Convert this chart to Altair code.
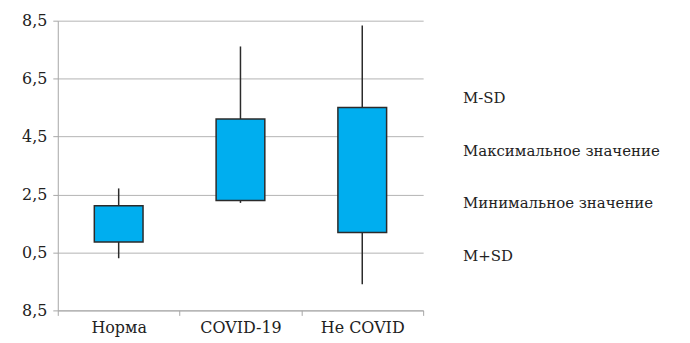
import altair as alt
import pandas as pd

categories = ["Норма", "COVID-19", "Не COVID"]
m_minus_sd = [0.86, 2.29, 1.19]
max_val = [2.71, 7.61, 8.33]
min_val = [0.30, 2.21, -0.60]
m_plus_sd = [2.11, 5.11, 5.50]

legend_labels = ["M-SD", "Максимальное значение", "Минимальное значение", "M+SD"]
y_ticks = [-1.5, 0.5, 2.5, 4.5, 6.5, 8.5]

df = pd.DataFrame({
    "cat": categories,
    "lo": m_minus_sd,
    "hi": m_plus_sd,
    "mx": max_val,
    "mn": min_val,
})
leg = pd.DataFrame({"s": legend_labels})

FONT = "DejaVu Serif"

x = alt.X("cat:N", sort=categories, title=None,
          scale=alt.Scale(paddingInner=0, paddingOuter=0),
          axis=alt.Axis(labelAngle=0, tickBand="extent", domainColor="#a6a6a6",
                        tickColor="#a6a6a6", tickSize=5, labelPadding=4,
                        labelFontSize=16, labelColor="#222", grid=False))
yscale = alt.Scale(domain=[-1.5, 8.5], nice=False, zero=False)
yaxis = alt.Axis(values=y_ticks, title=None, labelFontSize=16,
                 labelColor="#222", domainColor="#a6a6a6", tickColor="#a6a6a6",
                 tickSize=5, gridColor="#b3b3b3", labelPadding=6,
                 labelExpr="datum.value == -1.5 ? '8,5' : replace(format(datum.value, '.1f'), '.', ',')")

whisk = alt.Chart(df).mark_rule(color="#2b2b2b", strokeWidth=1.5).encode(
    x=x,
    y=alt.Y("mn:Q", scale=yscale, axis=yaxis),
    y2="mx:Q",
)
box = alt.Chart(df).mark_bar(width=alt.RelativeBandSize(0.4), color="#00aeef",
                              stroke="#2b2b2b", strokeWidth=1.5).encode(
    x=x,
    y=alt.Y("lo:Q", scale=yscale),
    y2="hi:Q",
)
legend_layer = alt.Chart(leg).mark_point(opacity=0).encode(
    color=alt.Color("s:N", sort=legend_labels,
                    scale=alt.Scale(domain=legend_labels, range=["#000"] * 4),
                    legend=alt.Legend(title=None, orient="none", legendX=392, legendY=70,
                                      symbolSize=0, symbolOpacity=0, symbolStrokeWidth=0,
                                      labelOffset=0, labelFontSize=15,
                                      labelColor="#222", rowPadding=37, labelLimit=400)),
)

chart = alt.layer(whisk, box, legend_layer).properties(
    width=367, height=291,
    autosize=alt.AutoSizeParams(type="none"),
    padding={"left": 50, "top": 12, "right": 260, "bottom": 30},
    background="white",
).configure(font=FONT).configure_axis(labelFont=FONT).configure_legend(labelFont=FONT).configure_view(stroke=None)

chart.save("out.html", embed_options={"renderer": "svg", "actions": False})
